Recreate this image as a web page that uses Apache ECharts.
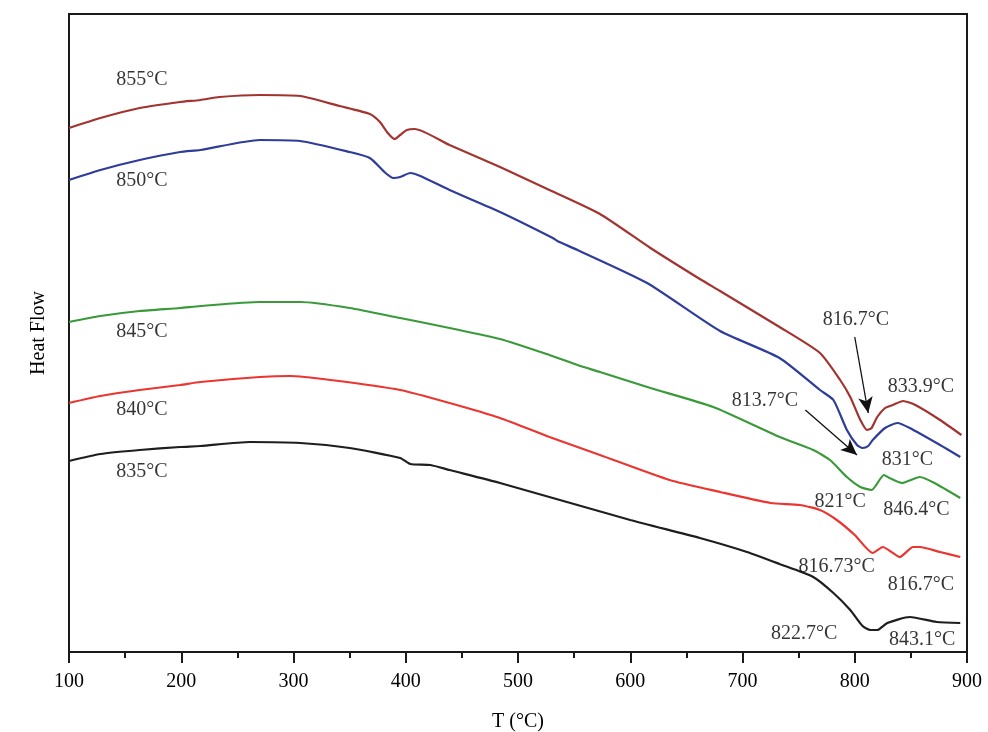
<!DOCTYPE html>
<html>
<head>
<meta charset="utf-8">
<script src="https://cdn.jsdelivr.net/npm/echarts@6/dist/echarts.min.js"></script>
<style>
  html, body { margin: 0; padding: 0; background: #fff; }
  #chart { width: 988px; height: 732px; }
</style>
</head>
<body>
<div id="chart"></div>
<script>
// DSC curves, heat flow in arbitrary units (no scale on the y axis)
const curve855 = [
  [100, 524], [128, 534], [163, 544], [199, 550], [217, 552], [234, 555], [270, 557], [306, 556],
  [341, 546], [368, 538], [377, 530], [384, 519], [390, 513], [395, 517], [401, 522], [408, 523],
  [439, 507], [484, 485], [528, 462], [573, 438], [618, 404], [662, 373], [680, 361], [733, 325],
  [769, 299], [787, 272], [796, 255], [805, 232], [811, 222], [815, 224], [820, 235], [827, 244],
  [834, 247], [843, 251], [854, 247], [876, 232], [895, 217]
];
const curve850 = [
  [100, 472], [128, 482], [163, 492], [199, 500], [217, 502], [270, 512], [306, 511], [350, 500],
  [368, 494], [382, 479], [389, 474], [395, 475], [404, 479], [413, 476], [439, 462], [484, 440],
  [531, 414], [535, 411], [553, 402], [615, 369], [680, 321], [733, 294], [769, 262], [781, 252],
  [793, 222], [802, 207], [807, 204], [812, 206], [816, 212], [827, 224], [838, 229], [849, 224],
  [876, 207], [894, 195]
];
const curve845 = [
  [100, 330], [128, 336], [163, 341], [199, 344], [217, 346], [270, 350], [306, 350], [350, 344],
  [395, 334], [413, 330], [439, 324], [484, 313], [528, 297], [553, 287], [573, 280], [618, 264],
  [674, 245], [733, 215], [763, 202], [778, 192], [793, 175], [805, 165], [815, 162], [826, 177],
  [831, 174], [842, 169], [858, 175], [871, 169], [894, 154]
];
const curve840 = [
  [100, 249], [128, 256], [163, 262], [199, 267], [217, 270], [270, 275], [297, 276], [333, 272],
  [395, 262], [439, 249], [484, 234], [528, 215], [573, 197], [635, 172], [680, 160], [725, 149],
  [751, 147], [769, 142], [784, 132], [800, 117], [816, 99], [825, 105], [834, 99], [840, 95],
  [852, 105], [858, 105], [876, 100], [894, 95]
];
const curve835 = [
  [100, 191], [128, 198], [163, 202], [199, 205], [217, 206], [261, 210], [306, 209], [350, 204],
  [395, 194], [404, 188], [422, 187], [439, 182], [484, 169], [600, 132], [662, 114], [704, 100],
  [733, 88], [763, 75], [781, 59], [796, 42], [807, 26], [814, 22], [820, 22], [829, 29],
  [849, 35], [873, 30], [894, 29]
];

const seriesNames = ['855°C', '850°C', '845°C', '840°C', '835°C'];
const seriesData = [curve855, curve850, curve845, curve840, curve835];
const seriesColors = ['#a2332f', '#2e3c9a', '#3a9a3a', '#ea3531', '#1e1e1e'];

// annotation texts and where they sit (data units)
const noteText = ['855°C', '850°C', '845°C', '840°C', '835°C',
  '816.7°C', '833.9°C', '813.7°C', '831°C', '821°C', '846.4°C',
  '816.73°C', '816.7°C', '822.7°C', '843.1°C'];
const noteT = [165, 165, 165, 165, 165, 801, 859, 720, 847, 787, 855, 784, 859, 755, 860];
const noteY = [572, 471, 320, 242, 180, 332, 265, 251, 192, 150, 142, 85, 67, 18, 12];

// arrows: [start, tip]
const arrows = [
  [[800, 315], [812, 239]],
  [[756, 242], [802, 197]]
];

const xTicks = { min: 100, max: 900, interval: 100 };

const chart = echarts.init(document.getElementById('chart'));

const lineSeries = seriesNames.map((name, i) => ({
  name: name,
  type: 'line',
  data: seriesData[i],
  smooth: 0.2,
  symbol: 'none',
  lineStyle: { color: seriesColors[i], width: 2.2 },
  z: 3
}));

lineSeries[0].markLine = {
  silent: true,
  symbol: ['none', 'arrow'],
  symbolSize: [11, 16],
  label: { show: false },
  lineStyle: { color: '#111', width: 1.3, type: 'solid' },
  data: arrows.map(a => [{ coord: a[0] }, { coord: a[1] }])
};

chart.setOption({
  animation: false,
  backgroundColor: '#fff',
  textStyle: { fontFamily: 'Liberation Serif, Times New Roman, serif' },
  grid: {
    left: 69, right: 21, top: 14, bottom: 80,
    outerBoundsMode: 'none',
    containLabel: false,
    show: true, borderColor: '#1a1a1a', borderWidth: 2
  },
  xAxis: {
    type: 'value',
    min: xTicks.min, max: xTicks.max, interval: xTicks.interval,
    name: 'T (°C)',
    nameLocation: 'middle',
    nameGap: 60,
    nameTextStyle: { fontSize: 20, color: '#000', fontFamily: 'Liberation Serif' },
    axisLine: { show: true, lineStyle: { color: '#1a1a1a', width: 2 } },
    axisTick: { show: true, length: 11, lineStyle: { color: '#1a1a1a', width: 2 } },
    minorTick: { show: true, splitNumber: 2, length: 6, lineStyle: { color: '#1a1a1a', width: 2 } },
    axisLabel: { fontSize: 20, color: '#000', margin: 20, fontFamily: 'Liberation Serif' },
    splitLine: { show: false }
  },
  yAxis: {
    type: 'value',
    min: 0, max: 638,
    name: 'Heat Flow',
    nameLocation: 'middle',
    nameGap: 20,
    nameTextStyle: { fontSize: 20, color: '#000', fontFamily: 'Liberation Serif' },
    axisLine: { show: true, lineStyle: { color: '#1a1a1a', width: 2 } },
    axisTick: { show: false },
    axisLabel: { show: false },
    splitLine: { show: false }
  },
  series: lineSeries.concat([{
    name: 'notes',
    type: 'scatter',
    symbolSize: 0,
    silent: true,
    clip: false,
    data: noteText.map((t, i) => ({ name: t, value: [noteT[i], noteY[i]] })),
    label: {
      show: true,
      position: 'inside',
      formatter: '{b}',
      fontSize: 20,
      color: '#000',
      fontFamily: 'Liberation Serif'
    },
    z: 5
  }])
});
</script>
</body>
</html>
